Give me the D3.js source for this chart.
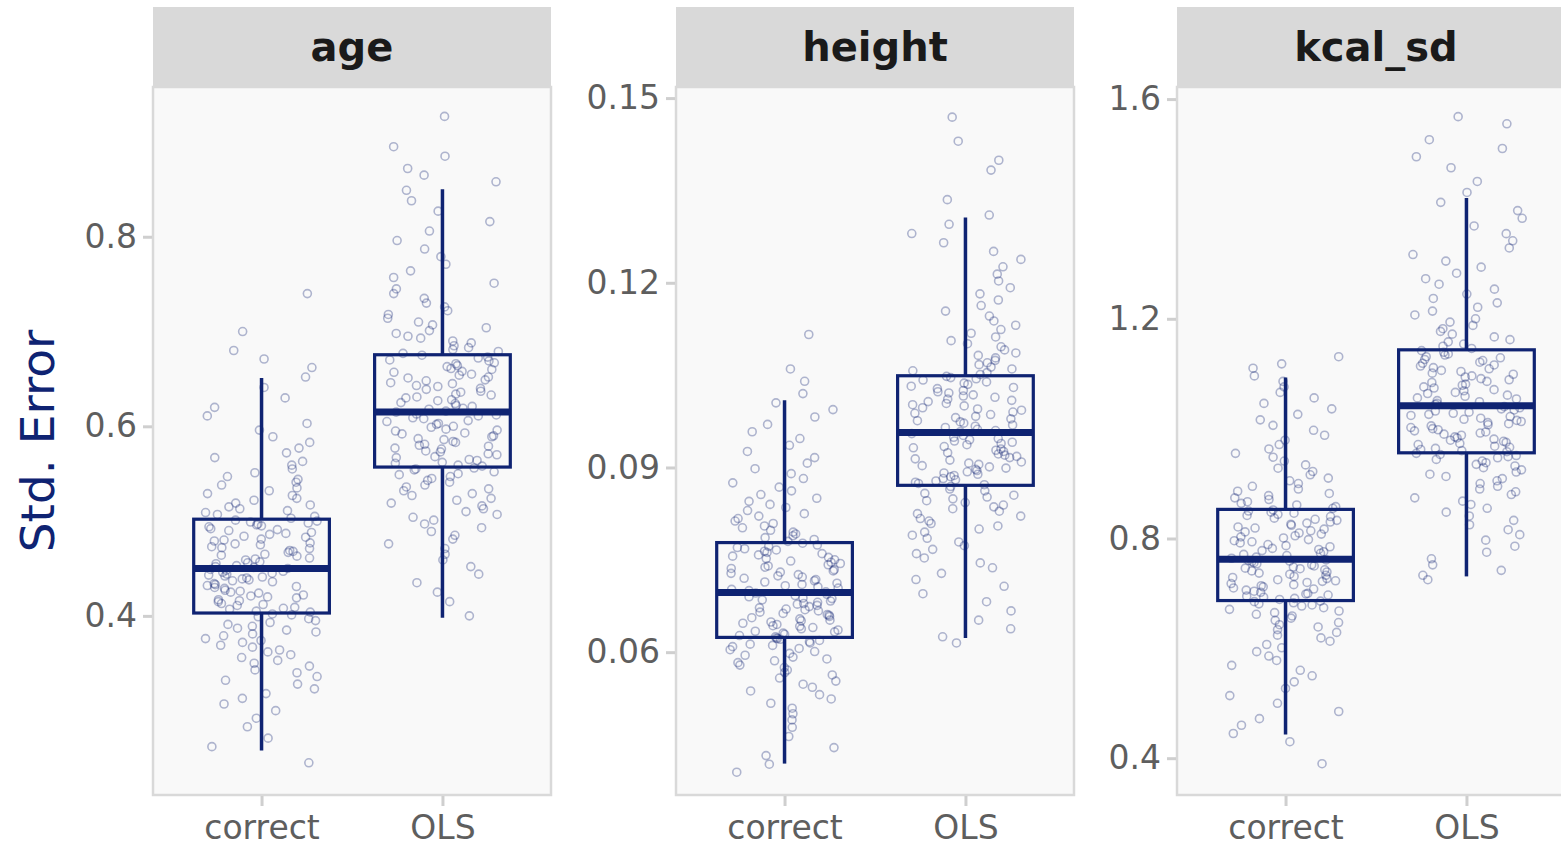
<!DOCTYPE html>
<html>
<head>
<meta charset="utf-8">
<script src="https://cdn.jsdelivr.net/npm/d3@7"></script>
<style>
  html, body { margin: 0; padding: 0; background: #fff; }
  svg { display: block; font-family: "DejaVu Sans", sans-serif; }
</style>
</head>
<body>
<svg id="viz" width="1561" height="847"></svg>
<script>
// facets and groups
var facets = ['age', 'height', 'kcal_sd']
var groups = ['correct', 'OLS']

// y axis ticks per facet
var ticksAge = [0.4, 0.6, 0.8]
var ticksHeight = [0.06, 0.09, 0.12, 0.15]
var ticksKcal = [0.4, 0.8, 1.2, 1.6]
var tickLabelsAge = ['0.4', '0.6', '0.8']
var tickLabelsHeight = ['0.06', '0.09', '0.12', '0.15']
var tickLabelsKcal = ['0.4', '0.8', '1.2', '1.6']

// y domains
var domainAge = [0.211, 0.958]
var domainHeight = [0.0368, 0.1518]
var domainKcal = [0.333, 1.622]

// box stats: [correct, OLS]
var whiskerLow = { age: [0.258, 0.398], height: [0.0419, 0.0623], kcal_sd: [0.443, 0.731] }
var q1 = { age: [0.403, 0.557], height: [0.0624, 0.0871], kcal_sd: [0.687, 0.956] }
var median = { age: [0.450, 0.615], height: [0.0697, 0.0957], kcal_sd: [0.762, 1.0415] }
var q3 = { age: [0.502, 0.6755], height: [0.0778, 0.1049], kcal_sd: [0.853, 1.1435] }
var whiskerHigh = { age: [0.651, 0.850], height: [0.1009, 0.1306], kcal_sd: [1.093, 1.420] }

// simulated std. errors (points)
var ageCorrect = [0.245,0.262,0.271,0.283,0.292,0.300,0.307,0.313,0.318,0.323,0.328,0.332,0.336,0.340,0.343,0.347,0.350,0.353,0.356,0.359,0.362,0.364,0.367,0.369,0.372,0.374,0.376,0.379,0.381,0.383,0.385,0.387,0.389,0.391,0.393,0.395,0.397,0.399,0.401,0.402,
  0.404,0.405,0.407,0.408,0.409,0.411,0.412,0.413,0.415,0.416,0.417,0.419,0.420,0.421,0.422,0.424,0.425,0.426,0.427,0.429,0.430,0.431,0.432,0.433,0.434,0.436,0.437,0.438,0.439,0.440,0.441,0.442,0.443,0.444,0.445,0.446,0.447,0.448,0.449,0.450,
  0.451,0.452,0.453,0.455,0.456,0.457,0.459,0.460,0.461,0.463,0.464,0.465,0.467,0.468,0.469,0.471,0.472,0.473,0.475,0.476,0.477,0.479,0.480,0.481,0.483,0.484,0.486,0.487,0.488,0.490,0.491,0.492,0.494,0.495,0.496,0.497,0.498,0.499,0.500,0.501,
  0.503,0.505,0.507,0.509,0.511,0.513,0.515,0.517,0.519,0.522,0.524,0.527,0.529,0.532,0.535,0.538,0.541,0.544,0.547,0.551,0.555,0.559,0.563,0.567,0.572,0.577,0.583,0.589,0.596,0.603,0.611,0.620,0.630,0.641,0.652,0.662,0.671,0.680,0.700,0.740]

var ageOLS = [0.400,0.415,0.425,0.435,0.444,0.452,0.459,0.465,0.471,0.476,0.481,0.485,0.489,0.493,0.497,0.501,0.504,0.507,0.510,0.513,0.516,0.519,0.522,0.524,0.527,0.529,0.532,0.534,0.536,0.538,0.541,0.543,0.545,0.547,0.549,0.550,0.552,0.554,0.555,0.556,
  0.558,0.559,0.561,0.562,0.564,0.565,0.567,0.568,0.570,0.571,0.573,0.574,0.576,0.577,0.579,0.580,0.581,0.583,0.584,0.586,0.587,0.589,0.590,0.592,0.593,0.595,0.596,0.597,0.599,0.600,0.602,0.603,0.605,0.606,0.608,0.609,0.611,0.612,0.613,0.615,
  0.616,0.618,0.619,0.621,0.622,0.624,0.625,0.627,0.628,0.630,0.631,0.633,0.634,0.636,0.637,0.639,0.640,0.642,0.643,0.645,0.646,0.648,0.649,0.651,0.652,0.654,0.655,0.657,0.658,0.660,0.661,0.663,0.664,0.666,0.667,0.669,0.670,0.672,0.673,0.675,
  0.677,0.679,0.681,0.683,0.685,0.688,0.690,0.693,0.695,0.698,0.701,0.704,0.707,0.710,0.714,0.718,0.722,0.726,0.730,0.735,0.740,0.745,0.751,0.757,0.764,0.771,0.779,0.787,0.796,0.806,0.816,0.827,0.838,0.849,0.858,0.865,0.872,0.885,0.895,0.927]

var heightCorrect = [0.0405,0.0418,0.0432,0.0445,0.0463,0.0478,0.0490,0.0500,0.0509,0.0517,0.0524,0.0531,0.0537,0.0543,0.0548,0.0553,0.0558,0.0563,0.0567,0.0571,0.0575,0.0579,0.0583,0.0586,0.0589,0.0592,0.0595,0.0598,0.0601,0.0604,0.0606,0.0609,0.0611,0.0613,0.0615,0.0617,0.0619,0.0621,0.0622,0.0623,
  0.0625,0.0627,0.0629,0.0631,0.0633,0.0634,0.0636,0.0638,0.0640,0.0642,0.0643,0.0645,0.0647,0.0649,0.0651,0.0652,0.0654,0.0656,0.0658,0.0660,0.0661,0.0663,0.0665,0.0667,0.0669,0.0670,0.0672,0.0674,0.0676,0.0678,0.0679,0.0681,0.0683,0.0685,0.0687,0.0688,0.0690,0.0692,0.0694,0.0696,
  0.0698,0.0700,0.0702,0.0704,0.0706,0.0708,0.0710,0.0712,0.0714,0.0716,0.0718,0.0720,0.0722,0.0724,0.0726,0.0728,0.0730,0.0732,0.0734,0.0736,0.0738,0.0740,0.0742,0.0744,0.0746,0.0748,0.0750,0.0752,0.0754,0.0756,0.0758,0.0760,0.0762,0.0764,0.0766,0.0768,0.0770,0.0772,0.0774,0.0777,
  0.0780,0.0783,0.0786,0.0789,0.0792,0.0795,0.0798,0.0802,0.0805,0.0809,0.0813,0.0817,0.0821,0.0825,0.0830,0.0835,0.0840,0.0845,0.0850,0.0856,0.0862,0.0868,0.0875,0.0882,0.0890,0.0898,0.0907,0.0916,0.0926,0.0936,0.0947,0.0958,0.0970,0.0982,0.0994,0.1005,0.1020,0.1040,0.1060,0.1116]

var heightOLS = [0.0615,0.0625,0.0638,0.0652,0.0667,0.0682,0.0695,0.0707,0.0718,0.0728,0.0737,0.0745,0.0753,0.0760,0.0767,0.0773,0.0779,0.0785,0.0790,0.0795,0.0800,0.0805,0.0809,0.0813,0.0817,0.0821,0.0825,0.0829,0.0833,0.0836,0.0839,0.0843,0.0846,0.0849,0.0852,0.0855,0.0858,0.0862,0.0865,0.0869,
  0.0872,0.0874,0.0876,0.0878,0.0880,0.0882,0.0885,0.0887,0.0889,0.0891,0.0893,0.0895,0.0897,0.0899,0.0901,0.0903,0.0905,0.0907,0.0909,0.0912,0.0914,0.0916,0.0918,0.0920,0.0922,0.0924,0.0926,0.0928,0.0930,0.0932,0.0934,0.0937,0.0939,0.0941,0.0943,0.0945,0.0947,0.0949,0.0952,0.0955,
  0.0958,0.0960,0.0962,0.0965,0.0967,0.0969,0.0972,0.0974,0.0976,0.0979,0.0981,0.0983,0.0986,0.0988,0.0990,0.0993,0.0995,0.0997,0.1000,0.1002,0.1004,0.1007,0.1009,0.1011,0.1014,0.1016,0.1018,0.1021,0.1023,0.1025,0.1028,0.1030,0.1032,0.1035,0.1037,0.1039,0.1042,0.1044,0.1046,0.1048,
  0.1051,0.1054,0.1057,0.1060,0.1063,0.1067,0.1070,0.1074,0.1078,0.1082,0.1086,0.1091,0.1096,0.1101,0.1106,0.1112,0.1118,0.1124,0.1131,0.1138,0.1146,0.1154,0.1163,0.1172,0.1182,0.1192,0.1203,0.1214,0.1226,0.1238,0.1251,0.1265,0.1280,0.1295,0.1310,0.1335,0.1383,0.1399,0.1430,0.1469]

var kcalCorrect = [0.390,0.430,0.445,0.460,0.472,0.485,0.500,0.514,0.527,0.539,0.550,0.560,0.569,0.578,0.586,0.594,0.601,0.607,0.613,0.619,0.624,0.629,0.634,0.639,0.643,0.647,0.651,0.655,0.659,0.662,0.665,0.668,0.671,0.674,0.677,0.679,0.681,0.683,0.685,0.686,
  0.689,0.691,0.693,0.695,0.697,0.699,0.700,0.702,0.704,0.706,0.708,0.710,0.712,0.714,0.716,0.718,0.720,0.722,0.723,0.725,0.727,0.729,0.731,0.733,0.735,0.737,0.739,0.741,0.743,0.745,0.746,0.748,0.750,0.752,0.754,0.756,0.758,0.759,0.760,0.761,
  0.764,0.766,0.769,0.771,0.773,0.776,0.778,0.780,0.782,0.785,0.787,0.789,0.792,0.794,0.796,0.798,0.801,0.803,0.805,0.808,0.810,0.812,0.814,0.817,0.819,0.821,0.824,0.826,0.828,0.830,0.833,0.835,0.837,0.840,0.842,0.844,0.846,0.848,0.850,0.852,
  0.855,0.858,0.861,0.864,0.867,0.871,0.874,0.878,0.882,0.886,0.890,0.895,0.900,0.905,0.910,0.916,0.922,0.928,0.934,0.941,0.948,0.955,0.963,0.971,0.979,0.988,0.997,1.006,1.016,1.026,1.036,1.046,1.056,1.066,1.076,1.086,1.096,1.110,1.118,1.131]

var kcalOLS = [0.725,0.733,0.742,0.752,0.763,0.775,0.786,0.797,0.807,0.816,0.825,0.833,0.841,0.848,0.855,0.862,0.868,0.874,0.880,0.885,0.890,0.895,0.900,0.905,0.909,0.913,0.917,0.921,0.925,0.929,0.932,0.935,0.938,0.941,0.944,0.947,0.949,0.951,0.953,0.955,
  0.958,0.960,0.962,0.964,0.966,0.968,0.971,0.973,0.975,0.977,0.979,0.981,0.983,0.985,0.988,0.990,0.992,0.994,0.996,0.998,1.000,1.002,1.005,1.007,1.009,1.011,1.013,1.015,1.017,1.019,1.022,1.024,1.026,1.028,1.030,1.032,1.034,1.036,1.038,1.040,
  1.044,1.046,1.049,1.051,1.054,1.056,1.059,1.061,1.064,1.066,1.069,1.071,1.074,1.076,1.079,1.081,1.084,1.086,1.089,1.091,1.094,1.096,1.099,1.101,1.104,1.106,1.109,1.111,1.114,1.116,1.119,1.121,1.124,1.126,1.129,1.131,1.134,1.136,1.139,1.142,
  1.146,1.150,1.154,1.158,1.162,1.167,1.172,1.177,1.182,1.188,1.194,1.200,1.207,1.214,1.221,1.229,1.237,1.245,1.254,1.263,1.273,1.283,1.294,1.305,1.317,1.329,1.342,1.355,1.369,1.383,1.397,1.412,1.430,1.450,1.475,1.495,1.510,1.526,1.555,1.568]

var navy = '#0f2372'

// layout
var panelLeft = [153, 676, 1177]
var panelWidth = 398
var panelTop = 87, panelBottom = 795
var stripTop = 7

var facetInfo = [
  { name: 'age', domain: domainAge, ticks: ticksAge, labels: tickLabelsAge, pts: [ageCorrect, ageOLS] },
  { name: 'height', domain: domainHeight, ticks: ticksHeight, labels: tickLabelsHeight, pts: [heightCorrect, heightOLS] },
  { name: 'kcal_sd', domain: domainKcal, ticks: ticksKcal, labels: tickLabelsKcal, pts: [kcalCorrect, kcalOLS] }
]

// deterministic horizontal jitter offset in [-1, 1]
function jit(i, g) {
  var s = Math.sin((i + 1) * 12.9898 + g * 78.233) * 43758.5453
  return (s - Math.floor(s)) * 2 - 1
}

var svg = d3.select('svg#viz')

facetInfo.forEach(function(f, fi) {
  var x0 = panelLeft[fi]
  var x = d3.scaleLinear().domain([0.4, 2.6]).range([x0, x0 + panelWidth])
  var y = d3.scaleLinear().domain(f.domain).range([panelBottom, panelTop])

  var g = svg.append('g')

  // strip
  g.append('rect')
    .attr('x', x0).attr('y', stripTop)
    .attr('width', panelWidth).attr('height', panelTop - stripTop)
    .attr('fill', '#d9d9d9')
  g.append('text')
    .attr('x', x0 + panelWidth / 2).attr('y', (stripTop + panelTop) / 2)
    .attr('text-anchor', 'middle').attr('dominant-baseline', 'central')
    .style('font-size', '40px').style('font-weight', 'bold')
    .attr('fill', '#1a1a1a')
    .text(f.name)

  // panel
  g.append('rect')
    .attr('x', x0).attr('y', panelTop)
    .attr('width', panelWidth).attr('height', panelBottom - panelTop)
    .attr('fill', '#f9f9f9')
    .attr('stroke', '#d9d9d9').attr('stroke-width', 2.5)

  // y axis
  var yAxis = g.append('g')
    .attr('transform', 'translate(' + (x0 - 1) + ',0)')
    .call(d3.axisLeft(y).tickValues(f.ticks).tickSize(9).tickPadding(6)
      .tickFormat(function(d, i) { return f.labels[i] }))
  yAxis.select('.domain').remove()
  yAxis.selectAll('.tick line').attr('stroke', '#cfcfcf').attr('stroke-width', 3)
  yAxis.selectAll('.tick text').attr('fill', '#5e5e5e')
    .style('font-size', '33px').style('font-family', '"DejaVu Sans", sans-serif')

  // x axis
  var xAxis = g.append('g')
    .attr('transform', 'translate(0,' + (panelBottom + 1) + ')')
    .call(d3.axisBottom(x).tickValues([1, 2]).tickSize(10).tickPadding(10)
      .tickFormat(function(d) { return groups[d - 1] }))
  xAxis.select('.domain').remove()
  xAxis.selectAll('.tick line').attr('stroke', '#cfcfcf').attr('stroke-width', 3)
  xAxis.selectAll('.tick text').attr('fill', '#5e5e5e')
    .style('font-size', '33px').style('font-family', '"DejaVu Sans", sans-serif')

  // jittered points
  f.pts.forEach(function(vals, gi) {
    g.append('g').selectAll('circle')
      .data(vals)
      .enter().append('circle')
      .attr('cx', function(d, i) { return x(gi + 1 + jit(i, gi + fi * 2) * 0.31) })
      .attr('cy', function(d) { return y(d) })
      .attr('r', 4)
      .attr('fill', 'none')
      .attr('stroke', navy)
      .attr('stroke-opacity', 0.32)
      .attr('stroke-width', 1.6)
  })

  // boxplots
  groups.forEach(function(gr, gi) {
    var cx = gi + 1
    var bx = g.append('g')
    bx.append('line')
      .attr('x1', x(cx)).attr('x2', x(cx))
      .attr('y1', y(whiskerHigh[f.name][gi])).attr('y2', y(q3[f.name][gi]))
      .attr('stroke', navy).attr('stroke-width', 3.5)
    bx.append('line')
      .attr('x1', x(cx)).attr('x2', x(cx))
      .attr('y1', y(q1[f.name][gi])).attr('y2', y(whiskerLow[f.name][gi]))
      .attr('stroke', navy).attr('stroke-width', 3.5)
    bx.append('rect')
      .attr('x', x(cx - 0.375)).attr('width', x(cx + 0.375) - x(cx - 0.375))
      .attr('y', y(q3[f.name][gi])).attr('height', y(q1[f.name][gi]) - y(q3[f.name][gi]))
      .attr('fill', 'none').attr('stroke', navy).attr('stroke-width', 3.2)
    bx.append('line')
      .attr('x1', x(cx - 0.375)).attr('x2', x(cx + 0.375))
      .attr('y1', y(median[f.name][gi])).attr('y2', y(median[f.name][gi]))
      .attr('stroke', navy).attr('stroke-width', 7)
  })
})

// y title
svg.append('text')
  .attr('transform', 'translate(37,' + ((panelTop + panelBottom) / 2) + ') rotate(-90)')
  .attr('text-anchor', 'middle').attr('dominant-baseline', 'central')
  .style('font-size', '47px')
  .attr('fill', navy)
  .text('Std. Error')
</script>
</body>
</html>
